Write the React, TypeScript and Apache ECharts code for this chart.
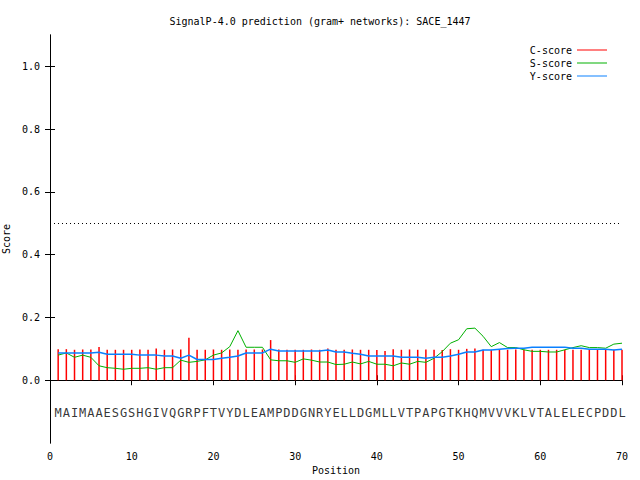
import { useEffect, useRef } from 'react'
import * as echarts from 'echarts'

const sequence = 'MAIMAAESGSHGIVQGRPFTVYDLEAMPDDGNRYELLDGMLLVTPAPGTKHQMVVVKLVTALELECPDDL'.split('')

const cScore = [
  0.099, 0.099, 0.097, 0.098, 0.098, 0.106, 0.097, 0.097, 0.097, 0.097,
  0.098, 0.097, 0.101, 0.097, 0.098, 0.098, 0.135, 0.097, 0.097, 0.098,
  0.097, 0.098, 0.097, 0.098, 0.098, 0.098, 0.128, 0.098, 0.097, 0.097,
  0.097, 0.098, 0.097, 0.101, 0.097, 0.097, 0.098, 0.097, 0.097, 0.096,
  0.093, 0.099, 0.097, 0.098, 0.097, 0.098, 0.097, 0.096, 0.099, 0.097,
  0.100, 0.101, 0.097, 0.097, 0.097, 0.097, 0.098, 0.097, 0.097, 0.097,
  0.097, 0.097, 0.097, 0.097, 0.097, 0.097, 0.097, 0.097, 0.097, 0.097,
]

const sScore = [
  0.080, 0.087, 0.073, 0.080, 0.073, 0.046, 0.040, 0.038, 0.035, 0.038,
  0.038, 0.040, 0.035, 0.040, 0.040, 0.064, 0.057, 0.060, 0.065, 0.080,
  0.087, 0.107, 0.158, 0.105, 0.105, 0.105, 0.065, 0.062, 0.062, 0.057,
  0.068, 0.064, 0.058, 0.058, 0.050, 0.051, 0.058, 0.052, 0.060, 0.051,
  0.051, 0.046, 0.055, 0.051, 0.060, 0.057, 0.070, 0.091, 0.118, 0.129,
  0.164, 0.166, 0.140, 0.107, 0.120, 0.104, 0.104, 0.097, 0.092, 0.092,
  0.090, 0.090, 0.097, 0.104, 0.110, 0.104, 0.104, 0.102, 0.115, 0.118,
]

const yScore = [
  0.087, 0.087, 0.087, 0.087, 0.087, 0.089, 0.083, 0.083, 0.083, 0.083,
  0.080, 0.080, 0.080, 0.077, 0.077, 0.070, 0.080, 0.066, 0.066, 0.066,
  0.070, 0.073, 0.077, 0.087, 0.087, 0.087, 0.099, 0.093, 0.093, 0.093,
  0.093, 0.093, 0.093, 0.096, 0.090, 0.090, 0.086, 0.083, 0.077, 0.077,
  0.077, 0.077, 0.073, 0.073, 0.073, 0.070, 0.073, 0.073, 0.077, 0.083,
  0.090, 0.090, 0.096, 0.096, 0.099, 0.101, 0.102, 0.102, 0.105, 0.105,
  0.105, 0.105, 0.105, 0.102, 0.102, 0.099, 0.099, 0.099, 0.096, 0.099,
]

const yTicks = [0, 0.2, 0.4, 0.6, 0.8, 1.0]
const threshold = 0.5
const seqLevel = -0.105

const font = 'DejaVu Sans Mono'

export default function App() {
  const ref = useRef<HTMLDivElement | null>(null)

  useEffect(() => {
    if (!ref.current) return
    const chart = echarts.init(ref.current, null, { renderer: 'svg' })
    const pos = (i: number) => i + 1
    const axisLine = { lineStyle: { color: '#000', width: 1 } }
    const tick = { show: true, inside: true, length: 5, lineStyle: { color: '#000' } }

    chart.setOption({
      animation: false,
      backgroundColor: '#fff',
      textStyle: { fontFamily: font },
      title: {
        text: 'SignalP-4.0 prediction (gram+ networks): SACE_1447',
        left: 'center',
        top: 11,
        textStyle: { fontFamily: font, fontSize: 10, fontWeight: 'normal', color: '#000' },
      },
      legend: {
        orient: 'vertical',
        right: 28,
        top: 40,
        align: 'right',
        itemGap: 3,
        itemWidth: 30,
        itemHeight: 1,
        icon: 'rect',
        textStyle: { fontFamily: font, fontSize: 10, color: '#000' },
        data: ['C-score', 'S-score', 'Y-score'],
      },
      grid: { left: 50, right: 18, top: 35, bottom: 37, outerBoundsMode: 'none' },
      xAxis: [
        {
          type: 'value',
          min: 0,
          max: 70,
          interval: 10,
          name: 'Position',
          nameLocation: 'middle',
          nameGap: 22,
          nameTextStyle: { fontFamily: font, fontSize: 10, color: '#000' },
          axisLine,
          axisTick: tick,
          axisLabel: { fontFamily: font, fontSize: 10, color: '#000', margin: 8 },
          splitLine: { show: false },
        },
        {
          type: 'value',
          position: 'top',
          min: 0,
          max: 70,
          interval: 10,
          axisLine,
          axisTick: tick,
          axisLabel: { show: false },
          splitLine: { show: false },
        },
      ],
      yAxis: [
        {
          type: 'value',
          min: -0.2,
          max: 1.1,
          name: 'Score',
          nameLocation: 'middle',
          nameGap: 34,
          nameTextStyle: { fontFamily: font, fontSize: 10, color: '#000' },
          axisLine: { show: true, ...axisLine },
          axisTick: { ...tick, customValues: yTicks },
          axisLabel: {
            fontFamily: font,
            fontSize: 10,
            color: '#000',
            margin: 10,
            customValues: yTicks,
            formatter: (v: number) => v.toFixed(1),
          },
          splitLine: { show: false },
        },
        {
          type: 'value',
          position: 'right',
          min: -0.2,
          max: 1.1,
          axisLine: { show: true, ...axisLine },
          axisTick: { ...tick, customValues: yTicks },
          axisLabel: { show: false },
          splitLine: { show: false },
        },
      ],
      series: [
        {
          name: 'C-score',
          type: 'bar',
          barWidth: 1.5,
          itemStyle: { color: '#ff0000' },
          data: cScore.map((v, i) => [pos(i), v]),
          markLine: {
            silent: true,
            symbol: 'none',
            label: { show: false },
            lineStyle: { color: '#000', type: [1, 3], width: 1 },
            data: [{ yAxis: threshold }],
          },
        },
        {
          name: 'S-score',
          type: 'line',
          showSymbol: false,
          symbol: 'none',
          itemStyle: { color: '#00b000' },
          lineStyle: { color: '#00b000', width: 1 },
          data: sScore.map((v, i) => [pos(i), v]),
        },
        {
          name: 'Y-score',
          type: 'line',
          showSymbol: false,
          symbol: 'none',
          itemStyle: { color: '#0a80ff' },
          lineStyle: { color: '#0a80ff', width: 1.5 },
          data: yScore.map((v, i) => [pos(i), v]),
        },
        {
          name: 'sequence',
          type: 'scatter',
          symbolSize: 0,
          silent: true,
          data: sequence.map((c, i) => ({ value: [pos(i), seqLevel], name: c })),
          label: {
            show: true,
            position: 'inside',
            formatter: (p: { name: string }) => p.name,
            fontFamily: font,
            fontSize: 12,
            color: '#000',
          },
        },
      ],
    })

    return () => chart.dispose()
  }, [])

  return (
    <div
      ref={ref}
      style={{ position: 'absolute', left: 0, top: 0, width: 640, height: 480 }}
    />
  )
}
